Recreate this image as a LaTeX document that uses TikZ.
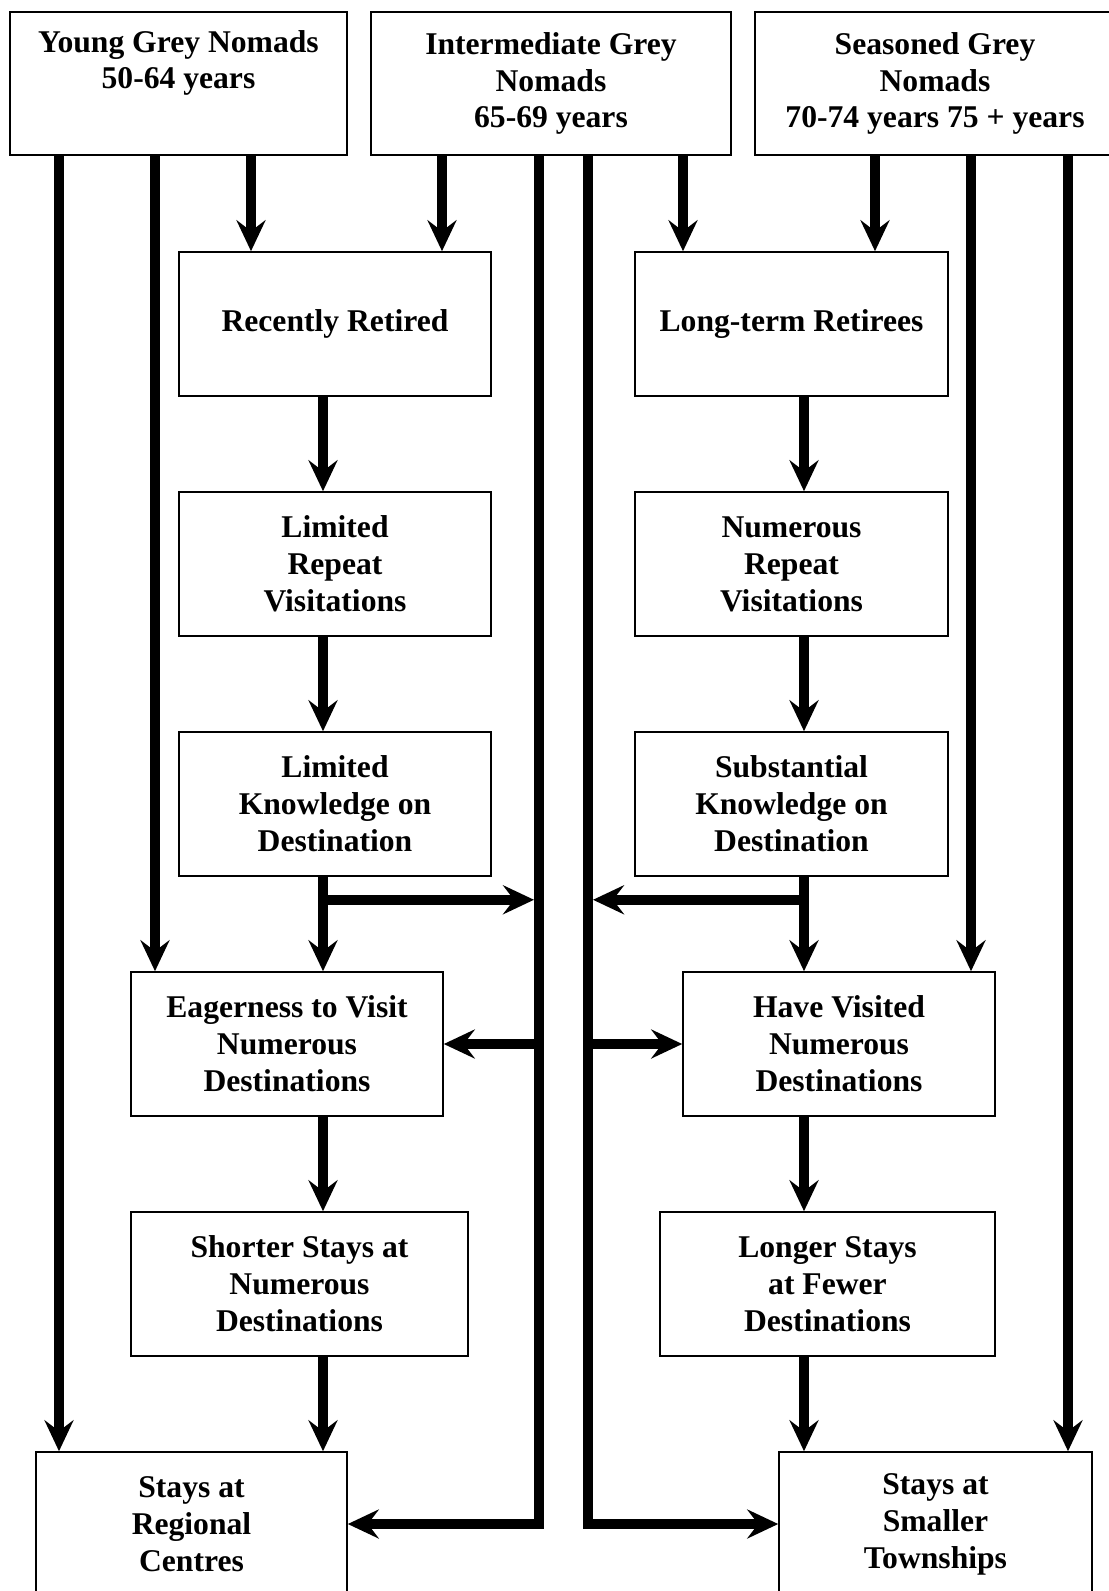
\documentclass[tikz,border=0pt]{standalone}
\usepackage{fontspec}
\setmainfont{Liberation Serif}
\usepackage{tikz}
\usetikzlibrary{arrows.meta,calc}

\begin{document}
\begin{tikzpicture}[>=Stealth,
box/.style={draw,line width=0.9pt,align=center,inner sep=0pt,minimum height=2.88cm,
  font=\fontsize{18}{21}\selectfont\bfseries},
arr/.style={line width=0.2cm,-{Stealth[length=0.62cm,width=0.58cm,inset=0.22cm]}}]
\useasboundingbox (0,0) rectangle (22.16,-31.82);
% columns of the connectors
\foreach \n/\x in {a/1.18,b/3.10,c/5.02,d/6.46,e/8.84,f/10.78,g/11.76,h/13.66,i/16.08,j/17.50,k/19.42,l/21.36}
  \coordinate (\n) at (\x,0);
% age groups
\node[box,minimum width=6.74cm,minimum height=2.86cm](young)at(3.57,-1.67){Young Grey Nomads\\50-64 years\\\strut};
\node[box,minimum width=7.2cm,minimum height=2.86cm](inter)at(11.02,-1.67){Intermediate Grey\\Nomads\\65-69 years};
\node[box,minimum width=7.2cm,minimum height=2.86cm](seasoned)at(18.70,-1.67){Seasoned Grey\\Nomads\\70-74 years 75 + years};
% left chain
\node[box,minimum width=6.24cm](recent)at(6.70,-6.48){Recently Retired};
\node[box,minimum width=6.24cm](limrepeat)at(6.70,-11.28){Limited\\Repeat\\Visitations};
\node[box,minimum width=6.24cm](limknow)at(6.70,-16.08){Limited\\Knowledge on\\Destination};
\node[box,minimum width=6.24cm](eager)at(5.74,-20.88){Eagerness to Visit\\Numerous\\Destinations};
\node[box,minimum width=6.74cm](shorter)at(5.99,-25.68){Shorter Stays at\\Numerous\\Destinations};
\node[box,minimum width=6.22cm](regional)at(3.83,-30.48){Stays at\\Regional\\Centres};
% right chain
\node[box,minimum width=6.26cm](longterm)at(15.83,-6.48){Long-term Retirees};
\node[box,minimum width=6.26cm](numrepeat)at(15.83,-11.28){Numerous\\Repeat\\Visitations};
\node[box,minimum width=6.26cm](subknow)at(15.83,-16.08){Substantial\\Knowledge on\\Destination};
\node[box,minimum width=6.24cm](visited)at(16.78,-20.88){Have Visited\\Numerous\\Destinations};
\node[box,minimum width=6.70cm](longer)at(16.55,-25.68){Longer Stays\\at Fewer\\Destinations};
\node[box,minimum width=6.26cm](smaller)at(18.71,-30.48){Stays at\\Smaller\\Townships};
% from the age groups
\draw[arr](young.south -| a)--(regional.north -| a);
\draw[arr](young.south -| b)--(eager.north -| b);
\draw[arr](young.south -| c)--(recent.north -| c);
\draw[arr](inter.south -| e)--(recent.north -| e);
\draw[arr](inter.south -| f)|-(regional.east);
\draw[arr](inter.south -| g)|-(smaller.west);
\draw[arr](inter.south -| h)--(longterm.north -| h);
\draw[arr](seasoned.south -| j)--(longterm.north -| j);
\draw[arr](seasoned.south -| k)--(visited.north -| k);
\draw[arr](seasoned.south -| l)--(smaller.north -| l);
% down the chains
\foreach \u/\v in {recent/limrepeat,limrepeat/limknow,limknow/eager,eager/shorter,shorter/regional}
  \draw[arr](\u.south -| d)--(\v.north -| d);
\foreach \u/\v in {longterm/numrepeat,numrepeat/subknow,subknow/visited,visited/longer,longer/smaller}
  \draw[arr](\u.south -| i)--(\v.north -| i);
% branches
\draw[arr]($(limknow.south -| d)+(0,-0.46)$)--($(limknow.south -| f)+(-0.1,-0.46)$);
\draw[arr]($(subknow.south -| i)+(0,-0.46)$)--($(subknow.south -| g)+(0.1,-0.46)$);
\draw[arr]($(eager.east -| f)+(-0.1,0)$)--(eager.east);
\draw[arr]($(visited.west -| g)+(0.1,0)$)--(visited.west);
\end{tikzpicture}
\end{document}
